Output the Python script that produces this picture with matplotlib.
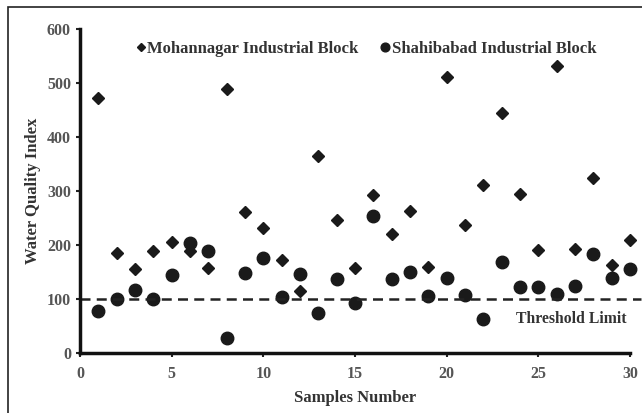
import numpy as np
import matplotlib.pyplot as plt
from matplotlib.patches import Rectangle

plt.rcParams['font.family'] = ['Liberation Serif', 'DejaVu Serif']
plt.rcParams['font.weight'] = 'bold'
plt.rcParams['axes.labelweight'] = 'bold'

# sample numbers
samples = np.arange(1, 31)

# Water quality index per sample
mohannagar = [472, 185, 155, 188, 205, 188, 158, 488, 262, 232,
              173, 115, 365, 247, 158, 292, 220, 263, 160, 512,
              237, 312, 445, 295, 190, 532, 193, 325, 163, 210]
shahibabad = [77, 100, 117, 100, 145, 203, 188, 28, 148, 176,
              103, 147, 75, 137, 92, 253, 137, 150, 105, 138,
              107, 63, 168, 123, 123, 110, 125, 183, 138, 155]
threshold = 100

fig = plt.figure(figsize=(6.42, 4.13), dpi=100)
ax = fig.add_axes([80/642, 1 - 353/413, 550/642, 324/413])

# outer frame of the picture
fig.patches.append(Rectangle((8/642, -0.1), 1.2, 1 - 7/413 + 0.1,
                             transform=fig.transFigure, fill=False,
                             edgecolor='#222222', linewidth=1.2))

ax.plot(samples, mohannagar, linestyle='none', marker='D', markersize=6.5,
        color='#1a1a1a', label='Mohannagar Industrial Block', clip_on=False)
ax.plot(samples, shahibabad, linestyle='none', marker='o', markersize=9,
        color='#1a1a1a', label='Shahibabad Industrial Block', clip_on=False)
ax.plot([0, 30.6], [threshold, threshold], linestyle='--', color='#222222',
        linewidth=1.8, dashes=(4, 2.5), clip_on=False)

ax.text(29.8, 63, 'Threshold Limit', ha='right', va='center', fontsize=11.3,
        color='#333333')

ax.set_xlim(0, 30)
ax.set_ylim(0, 600)
ax.set_xticks(range(0, 31, 5))
ax.set_yticks(range(0, 601, 100))
ax.tick_params(labelsize=11.5, colors='#222222', length=3, width=1.5,
               labelcolor='#555555')
ax.tick_params(axis='x', pad=6)
ax.set_xlabel('Samples Number', fontsize=12, color='#333333', labelpad=6)
ax.set_ylabel('Water Quality Index', fontsize=12, color='#333333', labelpad=4)
for s in ['top', 'right']:
    ax.spines[s].set_visible(False)
for s in ['left', 'bottom']:
    ax.spines[s].set_linewidth(2.5)
    ax.spines[s].set_color('#111111')

ax.legend(loc='upper center', bbox_to_anchor=(0.52, 1.01), ncol=2, frameon=False,
          fontsize=12, handlelength=0.6, handletextpad=0.1, columnspacing=1.3,
          markerscale=0.7, labelcolor='#333333')

fig.savefig('out.png', dpi=100)
